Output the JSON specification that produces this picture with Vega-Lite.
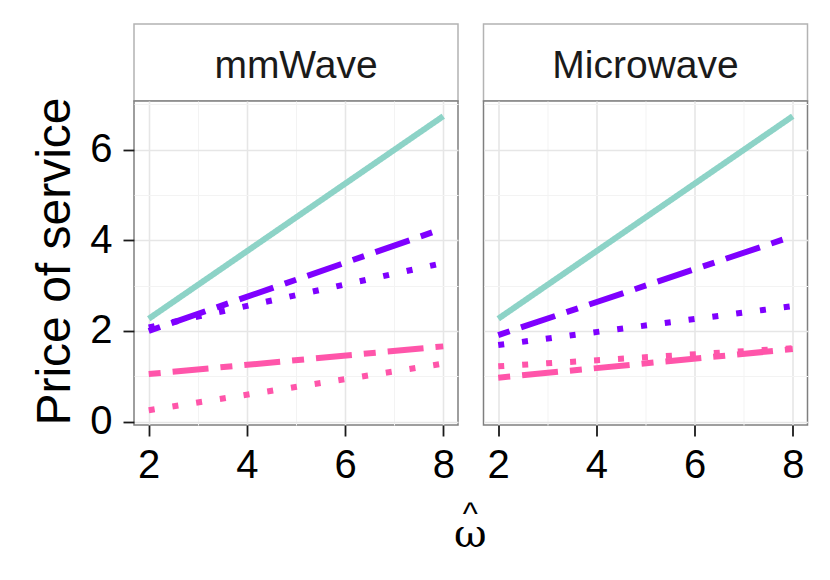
{
  "$schema": "https://vega.github.io/schema/vega-lite/v6.json",
  "background": "#ffffff",
  "autosize": {"type": "pad"},
  "padding": {"left": 30, "top": 23, "right": 22, "bottom": 10},
  "config": {
    "font": "Liberation Sans",
    "concat": {"spacing": 0}
  },
  "title": {
    "text": "^",
    "subtitle": "ω",
    "orient": "bottom",
    "anchor": "middle",
    "frame": "bounds",
    "dx": 51,
    "offset": 13,
    "fontSize": 32,
    "fontWeight": "normal",
    "color": "#000000",
    "subtitleFont": "DejaVu Serif",
    "subtitleFontSize": 40,
    "subtitleColor": "#000000",
    "subtitlePadding": -16
  },
  "datasets": {
    "prices": [
      {"panel": "mmWave", "group": "a", "type": "solid", "x": 2, "y": 2.27},
      {"panel": "mmWave", "group": "a", "type": "solid", "x": 8, "y": 6.74},
      {"panel": "mmWave", "group": "b", "type": "twodash", "x": 2, "y": 2.0},
      {"panel": "mmWave", "group": "b", "type": "twodash", "x": 8, "y": 4.26},
      {"panel": "mmWave", "group": "b", "type": "dotted", "x": 2, "y": 2.08},
      {"panel": "mmWave", "group": "b", "type": "dotted", "x": 8, "y": 3.5},
      {"panel": "mmWave", "group": "c", "type": "twodash", "x": 2, "y": 1.05},
      {"panel": "mmWave", "group": "c", "type": "twodash", "x": 8, "y": 1.66},
      {"panel": "mmWave", "group": "c", "type": "dotted", "x": 2, "y": 0.25},
      {"panel": "mmWave", "group": "c", "type": "dotted", "x": 8, "y": 1.28},
      {"panel": "Microwave", "group": "a", "type": "solid", "x": 2, "y": 2.27},
      {"panel": "Microwave", "group": "a", "type": "solid", "x": 8, "y": 6.74},
      {"panel": "Microwave", "group": "b", "type": "twodash", "x": 2, "y": 1.91},
      {"panel": "Microwave", "group": "b", "type": "twodash", "x": 8, "y": 4.09},
      {"panel": "Microwave", "group": "b", "type": "dotted", "x": 2, "y": 1.69},
      {"panel": "Microwave", "group": "b", "type": "dotted", "x": 8, "y": 2.55},
      {"panel": "Microwave", "group": "c", "type": "twodash", "x": 2, "y": 0.97},
      {"panel": "Microwave", "group": "c", "type": "twodash", "x": 8, "y": 1.6},
      {"panel": "Microwave", "group": "c", "type": "dotted", "x": 2, "y": 1.22},
      {"panel": "Microwave", "group": "c", "type": "dotted", "x": 8, "y": 1.62}
    ]
  },
  "columns": 2,
  "align": "none",
  "spacing": 23.5,
  "concat": [
    {
      "bounds": "flush",
      "spacing": 0,
      "vconcat": [
        {
          "width": 324,
          "height": 77,
          "view": {"fill": "#ffffff", "stroke": "#b3b3b3", "strokeWidth": 1.5},
          "data": {"values": [{"label": "mmWave"}]},
          "mark": {"type": "text", "fontSize": 39, "color": "#1a1a1a", "baseline": "alphabetic", "dy": 15.5},
          "encoding": {"text": {"field": "label"}}
        },
        {
          "width": 324,
          "height": 324,
          "view": {"fill": "#ffffff", "stroke": "#7f7f7f", "strokeWidth": 1.5},
          "data": {"name": "prices"},
          "transform": [{"filter": "datum.panel === 'mmWave'"}],
          "layer": [
            {
              "mark": {"type": "line", "opacity": 0},
              "encoding": {
                "x": {"field": "x", "type": "quantitative", "scale": {"domain": [1.7, 8.3], "nice": false, "zero": false},
                  "axis": {"orient": "bottom", "values": [3, 5, 7], "grid": true, "gridColor": "#f3f3f3", "gridWidth": 1, "labels": false, "ticks": false, "domain": false, "title": null}},
                "y": {"field": "y", "type": "quantitative", "scale": {"domain": [-0.075, 7.075], "nice": false, "zero": false},
                  "axis": {"orient": "left", "values": [1, 3, 5, 7], "grid": true, "gridColor": "#f3f3f3", "gridWidth": 1, "labels": false, "ticks": false, "domain": false, "title": null}},
                "detail": {"field": "type"}
              }
            },
            {
              "mark": {"type": "line", "strokeWidth": 6, "strokeCap": "butt", "clip": true},
              "encoding": {
                "x": {"field": "x", "type": "quantitative", "scale": {"domain": [1.7, 8.3], "nice": false, "zero": false},
                  "axis": {"orient": "bottom", "values": [2, 4, 6, 8], "grid": true, "gridColor": "#e6e6e6", "gridWidth": 1.6, "domain": false,
                    "tickSize": 11, "tickWidth": 1.8, "tickColor": "#1a1a1a", "labelFontSize": 40, "labelColor": "#000000", "labelPadding": 9, "title": null}},
                "y": {"field": "y", "type": "quantitative", "scale": {"domain": [-0.075, 7.075], "nice": false, "zero": false},
                  "axis": {"orient": "left", "values": [0, 2, 4, 6], "grid": true, "gridColor": "#e6e6e6", "gridWidth": 1.6, "domain": false,
                    "tickSize": 11, "tickWidth": 1.8, "tickColor": "#1a1a1a", "labelFontSize": 40, "labelColor": "#000000", "labelPadding": 11,
                    "title": "Price of service", "titleFontSize": 48, "titleFontWeight": "normal", "titleColor": "#000000",
                    "titleX": -65, "titleY": 160, "titleBaseline": "alphabetic", "titleAngle": -90, "titleAlign": "center"}},
                "color": {"field": "group", "type": "nominal", "scale": {"domain": ["a", "b", "c"], "range": ["#8dd3c7", "#7f00ff", "#ff55aa"]}, "legend": null},
                "strokeDash": {"field": "type", "type": "nominal", "scale": {"domain": ["solid", "twodash", "dotted"], "range": [[1, 0], [12, 12, 36, 12], [6, 18]]}, "legend": null}
              }
            }
          ],
          "resolve": {"axis": {"x": "independent", "y": "independent"}}
        }
      ]
    },
    {
      "bounds": "flush",
      "spacing": 0,
      "vconcat": [
        {
          "width": 324,
          "height": 77,
          "view": {"fill": "#ffffff", "stroke": "#b3b3b3", "strokeWidth": 1.5},
          "data": {"values": [{"label": "Microwave"}]},
          "mark": {"type": "text", "fontSize": 39, "color": "#1a1a1a", "baseline": "alphabetic", "dy": 15.5},
          "encoding": {"text": {"field": "label"}}
        },
        {
          "width": 324,
          "height": 324,
          "view": {"fill": "#ffffff", "stroke": "#7f7f7f", "strokeWidth": 1.5},
          "data": {"name": "prices"},
          "transform": [{"filter": "datum.panel === 'Microwave'"}],
          "layer": [
            {
              "mark": {"type": "line", "opacity": 0},
              "encoding": {
                "x": {"field": "x", "type": "quantitative", "scale": {"domain": [1.7, 8.3], "nice": false, "zero": false},
                  "axis": {"orient": "bottom", "values": [3, 5, 7], "grid": true, "gridColor": "#f3f3f3", "gridWidth": 1, "labels": false, "ticks": false, "domain": false, "title": null}},
                "y": {"field": "y", "type": "quantitative", "scale": {"domain": [-0.075, 7.075], "nice": false, "zero": false},
                  "axis": {"orient": "left", "values": [1, 3, 5, 7], "grid": true, "gridColor": "#f3f3f3", "gridWidth": 1, "labels": false, "ticks": false, "domain": false, "title": null}},
                "detail": {"field": "type"}
              }
            },
            {
              "mark": {"type": "line", "strokeWidth": 6, "strokeCap": "butt", "clip": true},
              "encoding": {
                "x": {"field": "x", "type": "quantitative", "scale": {"domain": [1.7, 8.3], "nice": false, "zero": false},
                  "axis": {"orient": "bottom", "values": [2, 4, 6, 8], "grid": true, "gridColor": "#e6e6e6", "gridWidth": 1.6, "domain": false,
                    "tickSize": 11, "tickWidth": 1.8, "tickColor": "#1a1a1a", "labelFontSize": 40, "labelColor": "#000000", "labelPadding": 9, "title": null}},
                "y": {"field": "y", "type": "quantitative", "scale": {"domain": [-0.075, 7.075], "nice": false, "zero": false},
                  "axis": {"orient": "left", "values": [0, 2, 4, 6], "grid": true, "gridColor": "#e6e6e6", "gridWidth": 1.6, "domain": false,
                    "labels": false, "ticks": false, "title": null}},
                "color": {"field": "group", "type": "nominal", "scale": {"domain": ["a", "b", "c"], "range": ["#8dd3c7", "#7f00ff", "#ff55aa"]}, "legend": null},
                "strokeDash": {"field": "type", "type": "nominal", "scale": {"domain": ["solid", "twodash", "dotted"], "range": [[1, 0], [12, 12, 36, 12], [6, 18]]}, "legend": null}
              }
            }
          ],
          "resolve": {"axis": {"x": "independent", "y": "independent"}}
        }
      ]
    }
  ]
}
